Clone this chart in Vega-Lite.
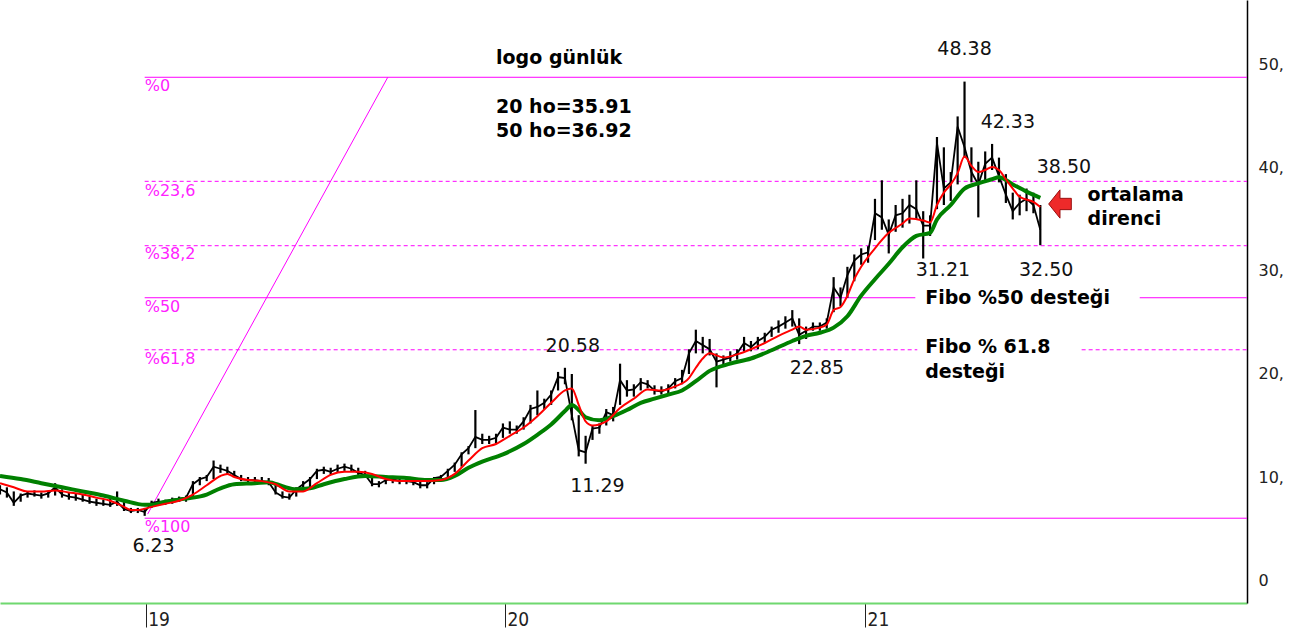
{
  "$schema": "https://vega.github.io/schema/vega-lite/v6.json",
  "width": 1247,
  "height": 603,
  "padding": {"left": 0, "top": 0, "right": 45, "bottom": 41},
  "autosize": {"type": "none"},
  "background": "white",
  "config": {"view": {"stroke": null}, "font": "DejaVu Sans"},
  "datasets": {
    "price": [
      {"d":"2018-08-06","h":9.2,"v":8.3},{"d":"2018-08-13","h":9.0,"v":8.0},{"d":"2018-08-20","h":8.6,"v":7.2},{"d":"2018-08-27","h":8.4,"v":7.6},
      {"d":"2018-09-03","h":8.6,"v":8.0},{"d":"2018-09-10","h":8.7,"v":8.1},{"d":"2018-09-17","h":8.5,"v":7.9},{"d":"2018-09-24","h":8.6,"v":8.0},
      {"d":"2018-10-01","h":9.4,"v":8.2},{"d":"2018-10-08","h":8.8,"v":8.0},{"d":"2018-10-15","h":8.5,"v":7.8},{"d":"2018-10-22","h":8.4,"v":7.7},
      {"d":"2018-10-29","h":8.3,"v":7.6},{"d":"2018-11-05","h":8.1,"v":7.4},{"d":"2018-11-12","h":7.9,"v":7.2},{"d":"2018-11-19","h":7.8,"v":7.2},
      {"d":"2018-11-26","h":8.0,"v":7.1},{"d":"2018-12-03","h":8.6,"v":7.2},{"d":"2018-12-10","h":7.6,"v":6.7},{"d":"2018-12-17","h":7.0,"v":6.5},
      {"d":"2018-12-24","h":7.0,"v":6.5},{"d":"2018-12-31","h":7.0,"v":6.23},{"d":"2019-01-07","h":7.7,"v":7.0},{"d":"2019-01-14","h":7.9,"v":7.3},
      {"d":"2019-01-21","h":7.8,"v":7.3},{"d":"2019-01-28","h":8.0,"v":7.4},{"d":"2019-02-04","h":8.1,"v":7.6},{"d":"2019-02-11","h":8.2,"v":7.6},
      {"d":"2019-02-18","h":9.6,"v":8.0},{"d":"2019-02-25","h":10.0,"v":9.2},{"d":"2019-03-04","h":10.2,"v":9.6},{"d":"2019-03-11","h":11.6,"v":9.8},
      {"d":"2019-03-18","h":11.2,"v":10.4},{"d":"2019-03-25","h":11.0,"v":10.2},{"d":"2019-04-01","h":10.6,"v":10.0},{"d":"2019-04-08","h":10.2,"v":9.6},
      {"d":"2019-04-15","h":10.0,"v":9.5},{"d":"2019-04-22","h":10.0,"v":9.4},{"d":"2019-04-29","h":10.0,"v":9.4},{"d":"2019-05-06","h":9.9,"v":9.2},
      {"d":"2019-05-13","h":9.4,"v":8.3},{"d":"2019-05-20","h":8.6,"v":7.9},{"d":"2019-05-27","h":8.4,"v":7.8},{"d":"2019-06-03","h":9.0,"v":8.1},
      {"d":"2019-06-10","h":9.6,"v":8.8},{"d":"2019-06-17","h":10.0,"v":9.0},{"d":"2019-06-24","h":10.8,"v":9.8},{"d":"2019-07-01","h":11.0,"v":10.3},
      {"d":"2019-07-08","h":10.9,"v":10.2},{"d":"2019-07-15","h":11.2,"v":10.4},{"d":"2019-07-22","h":11.3,"v":10.6},{"d":"2019-07-29","h":11.2,"v":10.5},
      {"d":"2019-08-05","h":10.9,"v":10.2},{"d":"2019-08-12","h":10.6,"v":10.0},{"d":"2019-08-19","h":10.0,"v":9.1},{"d":"2019-08-26","h":9.6,"v":9.0},
      {"d":"2019-09-02","h":9.9,"v":9.3},{"d":"2019-09-09","h":10.0,"v":9.4},{"d":"2019-09-16","h":9.9,"v":9.3},{"d":"2019-09-23","h":9.8,"v":9.3},
      {"d":"2019-09-30","h":9.8,"v":9.2},{"d":"2019-10-07","h":9.6,"v":8.9},{"d":"2019-10-14","h":9.5,"v":8.9},{"d":"2019-10-21","h":10.0,"v":9.3},
      {"d":"2019-10-28","h":10.2,"v":9.6},{"d":"2019-11-04","h":10.8,"v":9.9},{"d":"2019-11-11","h":11.4,"v":10.5},{"d":"2019-11-18","h":12.4,"v":11.0},
      {"d":"2019-11-25","h":13.0,"v":12.2},{"d":"2019-12-02","h":16.5,"v":12.8},{"d":"2019-12-09","h":14.2,"v":13.2},{"d":"2019-12-16","h":14.0,"v":13.2},
      {"d":"2019-12-23","h":14.2,"v":13.3},{"d":"2019-12-30","h":15.2,"v":13.8},{"d":"2020-01-06","h":15.4,"v":14.2},{"d":"2020-01-13","h":15.0,"v":14.2},
      {"d":"2020-01-20","h":15.8,"v":14.6},{"d":"2020-01-27","h":17.0,"v":15.2},{"d":"2020-02-03","h":18.4,"v":16.0},{"d":"2020-02-10","h":17.6,"v":16.6},
      {"d":"2020-02-17","h":18.4,"v":17.0},{"d":"2020-02-24","h":20.2,"v":18.4},{"d":"2020-03-02","h":20.6,"v":19.0},{"d":"2020-03-09","h":20.0,"v":15.5},
      {"d":"2020-03-16","h":16.0,"v":12.0},{"d":"2020-03-23","h":14.0,"v":11.29},{"d":"2020-03-30","h":15.0,"v":13.6},{"d":"2020-04-06","h":15.2,"v":14.2},
      {"d":"2020-04-13","h":16.6,"v":15.0},{"d":"2020-04-20","h":16.8,"v":15.4},{"d":"2020-04-27","h":21.0,"v":17.0},{"d":"2020-05-04","h":19.4,"v":17.8},
      {"d":"2020-05-11","h":19.0,"v":17.8},{"d":"2020-05-18","h":19.6,"v":18.4},{"d":"2020-05-25","h":19.4,"v":18.6},{"d":"2020-06-01","h":18.9,"v":18.0},
      {"d":"2020-06-08","h":18.8,"v":18.0},{"d":"2020-06-15","h":19.0,"v":18.0},{"d":"2020-06-22","h":19.6,"v":18.6},{"d":"2020-06-29","h":20.4,"v":19.0},
      {"d":"2020-07-06","h":22.4,"v":20.0},{"d":"2020-07-13","h":24.3,"v":22.0},{"d":"2020-07-20","h":23.6,"v":22.0},{"d":"2020-07-27","h":23.4,"v":21.8},
      {"d":"2020-08-03","h":22.0,"v":18.7},{"d":"2020-08-10","h":21.8,"v":20.8},{"d":"2020-08-17","h":22.2,"v":21.2},{"d":"2020-08-24","h":22.4,"v":21.4},
      {"d":"2020-08-31","h":23.6,"v":22.2},{"d":"2020-09-07","h":23.2,"v":22.2},{"d":"2020-09-14","h":23.6,"v":22.4},{"d":"2020-09-21","h":24.0,"v":23.0},
      {"d":"2020-09-28","h":24.6,"v":23.6},{"d":"2020-10-05","h":25.2,"v":24.0},{"d":"2020-10-12","h":25.6,"v":24.4},{"d":"2020-10-19","h":26.2,"v":24.6},
      {"d":"2020-10-26","h":25.4,"v":22.9},{"d":"2020-11-02","h":24.6,"v":23.4},{"d":"2020-11-09","h":25.0,"v":24.2},{"d":"2020-11-16","h":25.0,"v":24.2},
      {"d":"2020-11-23","h":25.4,"v":24.4},{"d":"2020-11-30","h":29.4,"v":26.0},{"d":"2020-12-07","h":28.4,"v":26.6},{"d":"2020-12-14","h":30.4,"v":27.4},
      {"d":"2020-12-21","h":31.6,"v":29.0},{"d":"2020-12-28","h":32.2,"v":30.6},{"d":"2021-01-04","h":32.4,"v":30.8},{"d":"2021-01-11","h":37.0,"v":33.0},
      {"d":"2021-01-18","h":38.8,"v":34.0},{"d":"2021-01-25","h":35.0,"v":31.7},{"d":"2021-02-01","h":36.4,"v":33.8},{"d":"2021-02-08","h":37.0,"v":34.2},
      {"d":"2021-02-15","h":37.4,"v":34.6},{"d":"2021-02-22","h":38.8,"v":35.0},{"d":"2021-03-01","h":35.8,"v":31.21},{"d":"2021-03-08","h":35.4,"v":33.4},
      {"d":"2021-03-15","h":43.0,"v":36.0},{"d":"2021-03-22","h":42.0,"v":36.4},{"d":"2021-03-29","h":39.6,"v":36.8},{"d":"2021-04-05","h":45.0,"v":38.4},
      {"d":"2021-04-12","h":48.38,"v":41.0},{"d":"2021-04-19","h":42.0,"v":38.6},{"d":"2021-04-26","h":40.6,"v":35.2},{"d":"2021-05-03","h":41.6,"v":38.8},
      {"d":"2021-05-10","h":42.33,"v":39.8},{"d":"2021-05-17","h":41.0,"v":38.6},{"d":"2021-05-24","h":39.4,"v":36.6},{"d":"2021-05-31","h":37.6,"v":35.0},
      {"d":"2021-06-07","h":37.4,"v":35.4},{"d":"2021-06-14","h":38.0,"v":35.8},{"d":"2021-06-21","h":37.6,"v":35.6},{"d":"2021-06-28","h":36.4,"v":32.5}
    ],
    "close": [
      {"d":"2018-08-06","v":8.8},{"d":"2018-08-13","v":8.5},{"d":"2018-08-20","v":7.5},{"d":"2018-08-27","v":8.2},
      {"d":"2018-09-03","v":8.4},{"d":"2018-09-10","v":8.3},{"d":"2018-09-17","v":8.2},{"d":"2018-09-24","v":8.4},
      {"d":"2018-10-01","v":9.0},{"d":"2018-10-08","v":8.3},{"d":"2018-10-15","v":8.1},{"d":"2018-10-22","v":8.0},
      {"d":"2018-10-29","v":7.8},{"d":"2018-11-05","v":7.6},{"d":"2018-11-12","v":7.5},{"d":"2018-11-19","v":7.4},
      {"d":"2018-11-26","v":7.3},{"d":"2018-12-03","v":7.6},{"d":"2018-12-10","v":6.9},{"d":"2018-12-17","v":6.7},
      {"d":"2018-12-24","v":6.8},{"d":"2018-12-31","v":6.6},{"d":"2019-01-07","v":7.5},{"d":"2019-01-14","v":7.6},
      {"d":"2019-01-21","v":7.6},{"d":"2019-01-28","v":7.8},{"d":"2019-02-04","v":7.9},{"d":"2019-02-11","v":8.0},
      {"d":"2019-02-18","v":9.3},{"d":"2019-02-25","v":9.8},{"d":"2019-03-04","v":10.0},{"d":"2019-03-11","v":11.0},
      {"d":"2019-03-18","v":10.8},{"d":"2019-03-25","v":10.6},{"d":"2019-04-01","v":10.2},{"d":"2019-04-08","v":9.8},
      {"d":"2019-04-15","v":9.7},{"d":"2019-04-22","v":9.7},{"d":"2019-04-29","v":9.6},{"d":"2019-05-06","v":9.5},
      {"d":"2019-05-13","v":8.5},{"d":"2019-05-20","v":8.1},{"d":"2019-05-27","v":8.0},{"d":"2019-06-03","v":8.8},
      {"d":"2019-06-10","v":9.3},{"d":"2019-06-17","v":9.8},{"d":"2019-06-24","v":10.6},{"d":"2019-07-01","v":10.7},
      {"d":"2019-07-08","v":10.5},{"d":"2019-07-15","v":10.8},{"d":"2019-07-22","v":11.0},{"d":"2019-07-29","v":10.8},
      {"d":"2019-08-05","v":10.4},{"d":"2019-08-12","v":10.2},{"d":"2019-08-19","v":9.3},{"d":"2019-08-26","v":9.3},
      {"d":"2019-09-02","v":9.7},{"d":"2019-09-09","v":9.8},{"d":"2019-09-16","v":9.6},{"d":"2019-09-23","v":9.6},
      {"d":"2019-09-30","v":9.5},{"d":"2019-10-07","v":9.2},{"d":"2019-10-14","v":9.2},{"d":"2019-10-21","v":9.9},
      {"d":"2019-10-28","v":10.0},{"d":"2019-11-04","v":10.6},{"d":"2019-11-11","v":11.2},{"d":"2019-11-18","v":12.2},
      {"d":"2019-11-25","v":12.8},{"d":"2019-12-02","v":13.9},{"d":"2019-12-09","v":13.6},{"d":"2019-12-16","v":13.6},
      {"d":"2019-12-23","v":13.8},{"d":"2019-12-30","v":14.8},{"d":"2020-01-06","v":14.6},{"d":"2020-01-13","v":14.6},
      {"d":"2020-01-20","v":15.4},{"d":"2020-01-27","v":16.6},{"d":"2020-02-03","v":16.8},{"d":"2020-02-10","v":17.2},
      {"d":"2020-02-17","v":18.0},{"d":"2020-02-24","v":19.7},{"d":"2020-03-02","v":19.6},{"d":"2020-03-09","v":16.0},
      {"d":"2020-03-16","v":12.6},{"d":"2020-03-23","v":12.4},{"d":"2020-03-30","v":14.7},{"d":"2020-04-06","v":14.8},
      {"d":"2020-04-13","v":16.3},{"d":"2020-04-20","v":16.0},{"d":"2020-04-27","v":19.4},{"d":"2020-05-04","v":18.4},
      {"d":"2020-05-11","v":18.5},{"d":"2020-05-18","v":19.2},{"d":"2020-05-25","v":19.0},{"d":"2020-06-01","v":18.4},
      {"d":"2020-06-08","v":18.3},{"d":"2020-06-15","v":18.6},{"d":"2020-06-22","v":19.3},{"d":"2020-06-29","v":19.6},
      {"d":"2020-07-06","v":22.0},{"d":"2020-07-13","v":23.2},{"d":"2020-07-20","v":22.8},{"d":"2020-07-27","v":22.4},
      {"d":"2020-08-03","v":21.2},{"d":"2020-08-10","v":21.4},{"d":"2020-08-17","v":21.6},{"d":"2020-08-24","v":22.0},
      {"d":"2020-08-31","v":23.0},{"d":"2020-09-07","v":22.6},{"d":"2020-09-14","v":23.2},{"d":"2020-09-21","v":23.6},
      {"d":"2020-09-28","v":24.3},{"d":"2020-10-05","v":24.6},{"d":"2020-10-12","v":25.0},{"d":"2020-10-19","v":25.4},
      {"d":"2020-10-26","v":23.8},{"d":"2020-11-02","v":24.2},{"d":"2020-11-09","v":24.6},{"d":"2020-11-16","v":24.6},
      {"d":"2020-11-23","v":25.0},{"d":"2020-11-30","v":28.4},{"d":"2020-12-07","v":27.4},{"d":"2020-12-14","v":29.6},
      {"d":"2020-12-21","v":31.0},{"d":"2020-12-28","v":31.6},{"d":"2021-01-04","v":31.8},{"d":"2021-01-11","v":35.6},
      {"d":"2021-01-18","v":35.2},{"d":"2021-01-25","v":33.5},{"d":"2021-02-01","v":35.4},{"d":"2021-02-08","v":35.6},
      {"d":"2021-02-15","v":36.4},{"d":"2021-02-22","v":36.0},{"d":"2021-03-01","v":34.4},{"d":"2021-03-08","v":34.4},
      {"d":"2021-03-15","v":42.4},{"d":"2021-03-22","v":38.0},{"d":"2021-03-29","v":38.6},{"d":"2021-04-05","v":44.0},
      {"d":"2021-04-12","v":42.0},{"d":"2021-04-19","v":39.6},{"d":"2021-04-26","v":38.4},{"d":"2021-05-03","v":40.4},
      {"d":"2021-05-10","v":41.0},{"d":"2021-05-17","v":39.2},{"d":"2021-05-24","v":37.4},{"d":"2021-05-31","v":35.8},
      {"d":"2021-06-07","v":36.6},{"d":"2021-06-14","v":37.0},{"d":"2021-06-21","v":36.4},{"d":"2021-06-28","v":34.0}
    ],
    "ma20": [
      {"d":"2018-08-06","v":9.4},{"d":"2018-08-20","v":9.0},{"d":"2018-09-03","v":8.6},{"d":"2018-09-17","v":8.6},
      {"d":"2018-10-01","v":8.7},{"d":"2018-10-15","v":8.5},{"d":"2018-10-29","v":8.3},{"d":"2018-11-12","v":8.0},
      {"d":"2018-11-26","v":7.7},{"d":"2018-12-10","v":7.1},{"d":"2018-12-17","v":6.8},{"d":"2018-12-24","v":6.8},
      {"d":"2019-01-07","v":7.1},{"d":"2019-01-21","v":7.4},{"d":"2019-02-04","v":7.7},{"d":"2019-02-18","v":8.3},
      {"d":"2019-03-04","v":9.2},{"d":"2019-03-18","v":10.1},{"d":"2019-03-25","v":10.3},{"d":"2019-04-01","v":10.0},
      {"d":"2019-04-15","v":9.7},{"d":"2019-04-29","v":9.6},{"d":"2019-05-13","v":9.3},{"d":"2019-05-27","v":8.6},
      {"d":"2019-06-10","v":8.6},{"d":"2019-06-24","v":9.4},{"d":"2019-07-08","v":10.2},{"d":"2019-07-22","v":10.5},
      {"d":"2019-08-05","v":10.5},{"d":"2019-08-19","v":10.3},{"d":"2019-09-02","v":9.8},{"d":"2019-09-16","v":9.6},
      {"d":"2019-09-30","v":9.6},{"d":"2019-10-14","v":9.6},{"d":"2019-10-28","v":9.7},{"d":"2019-11-11","v":10.3},
      {"d":"2019-11-25","v":11.6},{"d":"2019-12-09","v":12.8},{"d":"2019-12-23","v":13.2},{"d":"2020-01-06","v":14.0},
      {"d":"2020-01-20","v":14.8},{"d":"2020-02-03","v":15.9},{"d":"2020-02-17","v":17.2},{"d":"2020-03-02","v":18.4},
      {"d":"2020-03-09","v":18.6},{"d":"2020-03-16","v":17.0},{"d":"2020-03-23","v":15.4},{"d":"2020-03-30","v":15.0},
      {"d":"2020-04-13","v":15.4},{"d":"2020-04-27","v":16.7},{"d":"2020-05-11","v":17.6},{"d":"2020-05-25","v":18.5},
      {"d":"2020-06-08","v":18.4},{"d":"2020-06-22","v":18.8},{"d":"2020-07-06","v":19.6},{"d":"2020-07-13","v":20.6},
      {"d":"2020-07-20","v":21.5},{"d":"2020-07-27","v":22.0},{"d":"2020-08-10","v":21.6},{"d":"2020-08-24","v":21.9},
      {"d":"2020-09-07","v":22.4},{"d":"2020-09-21","v":23.0},{"d":"2020-10-05","v":23.7},{"d":"2020-10-19","v":24.3},
      {"d":"2020-10-26","v":24.6},{"d":"2020-11-02","v":24.3},{"d":"2020-11-16","v":24.5},{"d":"2020-11-23","v":24.8},
      {"d":"2020-11-30","v":26.2},{"d":"2020-12-07","v":26.5},{"d":"2020-12-14","v":27.6},{"d":"2020-12-21","v":29.2},
      {"d":"2020-12-28","v":30.4},{"d":"2021-01-11","v":32.2},{"d":"2021-01-25","v":33.7},{"d":"2021-02-08","v":34.6},
      {"d":"2021-02-15","v":35.1},{"d":"2021-03-01","v":34.9},{"d":"2021-03-08","v":34.7},{"d":"2021-03-15","v":36.4},
      {"d":"2021-03-22","v":37.6},{"d":"2021-03-29","v":38.4},{"d":"2021-04-05","v":39.5},{"d":"2021-04-12","v":41.1},
      {"d":"2021-04-19","v":40.2},{"d":"2021-04-26","v":39.6},{"d":"2021-05-03","v":39.8},{"d":"2021-05-10","v":40.1},
      {"d":"2021-05-17","v":39.8},{"d":"2021-05-24","v":38.9},{"d":"2021-05-31","v":38.0},{"d":"2021-06-07","v":37.2},
      {"d":"2021-06-21","v":36.7},{"d":"2021-06-28","v":36.2}
    ],
    "ma50": [
      {"d":"2018-08-06","v":10.1},{"d":"2018-08-27","v":9.8},{"d":"2018-09-17","v":9.4},{"d":"2018-10-08","v":9.0},
      {"d":"2018-10-29","v":8.6},{"d":"2018-11-19","v":8.2},{"d":"2018-12-10","v":7.7},{"d":"2018-12-31","v":7.3},
      {"d":"2019-01-07","v":7.3},{"d":"2019-01-21","v":7.6},{"d":"2019-02-11","v":7.9},{"d":"2019-03-04","v":8.3},
      {"d":"2019-03-18","v":8.9},{"d":"2019-04-01","v":9.3},{"d":"2019-04-22","v":9.4},{"d":"2019-05-06","v":9.5},
      {"d":"2019-05-20","v":9.1},{"d":"2019-06-03","v":8.8},{"d":"2019-06-17","v":8.9},{"d":"2019-07-01","v":9.3},
      {"d":"2019-07-22","v":9.8},{"d":"2019-08-12","v":10.1},{"d":"2019-09-02","v":10.0},{"d":"2019-09-23","v":9.9},
      {"d":"2019-10-14","v":9.7},{"d":"2019-10-28","v":9.7},{"d":"2019-11-11","v":10.1},{"d":"2019-11-25","v":10.9},
      {"d":"2019-12-09","v":11.5},{"d":"2019-12-30","v":12.2},{"d":"2020-01-20","v":13.2},{"d":"2020-02-03","v":14.1},
      {"d":"2020-02-17","v":15.1},{"d":"2020-03-02","v":16.4},{"d":"2020-03-09","v":17.0},{"d":"2020-03-16","v":16.5},
      {"d":"2020-03-23","v":15.8},{"d":"2020-04-06","v":15.5},{"d":"2020-04-20","v":15.9},{"d":"2020-05-04","v":16.5},
      {"d":"2020-05-18","v":17.2},{"d":"2020-06-01","v":17.6},{"d":"2020-06-15","v":18.0},{"d":"2020-06-29","v":18.4},
      {"d":"2020-07-13","v":19.3},{"d":"2020-07-27","v":20.3},{"d":"2020-08-17","v":21.0},{"d":"2020-09-07","v":21.5},
      {"d":"2020-09-28","v":22.3},{"d":"2020-10-19","v":23.2},{"d":"2020-11-02","v":23.7},{"d":"2020-11-16","v":24.0},
      {"d":"2020-11-30","v":24.5},{"d":"2020-12-14","v":25.6},{"d":"2020-12-28","v":27.6},{"d":"2021-01-11","v":29.2},
      {"d":"2021-01-25","v":30.7},{"d":"2021-02-08","v":32.3},{"d":"2021-02-22","v":33.4},{"d":"2021-03-08","v":33.7},
      {"d":"2021-03-15","v":35.0},{"d":"2021-03-29","v":36.4},{"d":"2021-04-12","v":38.0},{"d":"2021-04-26","v":38.5},
      {"d":"2021-05-10","v":38.9},{"d":"2021-05-17","v":39.1},{"d":"2021-05-31","v":38.4},{"d":"2021-06-14","v":37.7},
      {"d":"2021-06-28","v":37.1}
    ],
    "fib": [
      {"lvl":"%0","v":48.8,"kind":"solid","d":"2018-12-31","d2":"2022-01-24"},
      {"lvl":"%23,6","v":38.7,"kind":"dash","d":"2018-12-31","d2":"2022-01-24"},
      {"lvl":"%38,2","v":32.45,"kind":"dash","d":"2018-12-31","d2":"2022-01-24"},
      {"lvl":"%50","v":27.4,"kind":"solid","d":"2018-12-31","d2":"2021-02-21"},
      {"lvl":"%50","v":27.4,"kind":"solid","d":"2021-10-07","d2":"2022-01-24"},
      {"lvl":"%61,8","v":22.35,"kind":"dash","d":"2018-12-31","d2":"2021-02-23"},
      {"lvl":"%61,8","v":22.35,"kind":"dash","d":"2021-08-09","d2":"2022-01-24"},
      {"lvl":"%100","v":6.0,"kind":"solid","d":"2018-12-31","d2":"2022-01-24"}
    ],
    "trend": [
      {"d":"2019-01-03","v":6.4},
      {"d":"2019-09-04","v":48.8}
    ],
    "fiblab": [
      {"d":"2018-12-31","v":48.0,"t":"%0"},
      {"d":"2018-12-31","v":37.8,"t":"%23,6"},
      {"d":"2018-12-31","v":31.6,"t":"%38,2"},
      {"d":"2018-12-31","v":26.5,"t":"%50"},
      {"d":"2018-12-31","v":21.5,"t":"%61,8"},
      {"d":"2018-12-31","v":5.1,"t":"%100"}
    ],
    "nums": [
      {"d":"2021-04-12","v":51.5,"t":"48.38"},
      {"d":"2021-05-26","v":44.5,"t":"42.33"},
      {"d":"2021-07-22","v":40.1,"t":"38.50"},
      {"d":"2021-03-21","v":30.1,"t":"31.21"},
      {"d":"2021-07-04","v":30.1,"t":"32.50"},
      {"d":"2020-03-10","v":22.7,"t":"20.58"},
      {"d":"2020-04-04","v":9.1,"t":"11.29"},
      {"d":"2020-11-13","v":20.6,"t":"22.85"},
      {"d":"2019-01-09","v":3.3,"t":"6.23"}
    ],
    "notes": [
      {"d":"2019-12-23","v":50.7,"t":"logo günlük"},
      {"d":"2019-12-23","v":45.9,"t":"20 ho=35.91"},
      {"d":"2019-12-23","v":43.6,"t":"50 ho=36.92"},
      {"d":"2021-08-15","v":37.4,"t":"ortalama"},
      {"d":"2021-08-15","v":35.0,"t":"direnci"},
      {"d":"2021-03-03","v":27.4,"t":"Fibo %50 desteği"},
      {"d":"2021-03-03","v":22.6,"t":"Fibo % 61.8"},
      {"d":"2021-03-03","v":20.2,"t":"desteği"}
    ],
    "arrow": [
      {"d":"2021-07-18","v":36.5}
    ]
  },
  "encoding": {
    "x": {
      "field": "d",
      "type": "temporal",
      "title": null,
      "scale": {"type": "utc", "domain": [{"year": 2018, "month": 8, "date": 6, "utc": true}, {"year": 2022, "month": 1, "date": 24, "utc": true}]},
      "axis": {
        "orient": "bottom",
        "values": [{"year": 2019, "month": 1, "date": 1, "utc": true}, {"year": 2020, "month": 1, "date": 1, "utc": true}, {"year": 2021, "month": 1, "date": 1, "utc": true}],
        "labelExpr": "utcFormat(datum.value, '%y')",
        "grid": false,
        "domainColor": "#6fd86f",
        "domainWidth": 2,
        "tickColor": "#222222",
        "tickWidth": 1,
        "tickSize": 24,
        "labelAlign": "left",
        "labelBaseline": "top",
        "labelPadding": -17,
        "labelOffset": 2,
        "labelFont": "DejaVu Sans Condensed",
        "labelFontSize": 19,
        "labelColor": "#222222",
        "labelFlush": false
      }
    },
    "y": {
      "field": "v",
      "type": "quantitative",
      "title": null,
      "scale": {"domain": [-2.23, 56.3], "nice": false, "zero": false},
      "axis": {
        "orient": "right",
        "values": [0, 10, 20, 30, 40, 50],
        "labelExpr": "datum.value == 0 ? '0' : datum.value + ','",
        "labelFont": "DejaVu Sans",
        "labelFontSize": 16,
        "labelColor": "#222222",
        "labelPadding": 11,
        "labelBaseline": "middle",
        "ticks": false,
        "domainColor": "#000000",
        "domainWidth": 1.5,
        "grid": false
      }
    }
  },
  "layer": [
    {
      "data": {"name": "fib"},
      "transform": [{"filter": "datum.kind == 'solid'"}],
      "mark": {"type": "rule", "color": "#ff00ff", "strokeWidth": 1},
      "encoding": {"x2": {"field": "d2"}}
    },
    {
      "data": {"name": "fib"},
      "transform": [{"filter": "datum.kind == 'dash'"}],
      "mark": {"type": "rule", "color": "#ff00ff", "strokeWidth": 1, "strokeDash": [4, 3]},
      "encoding": {"x2": {"field": "d2"}}
    },
    {
      "data": {"name": "trend"},
      "mark": {"type": "line", "color": "#ff00ff", "strokeWidth": 1},
      "encoding": {}
    },
    {
      "data": {"name": "fiblab"},
      "mark": {"type": "text", "color": "#ff22ff", "fontSize": 16, "font": "DejaVu Sans", "align": "left", "baseline": "middle"},
      "encoding": {"text": {"field": "t"}}
    },
    {
      "data": {"name": "price"},
      "mark": {"type": "rule", "color": "#000000", "strokeWidth": 2.2},
      "encoding": {"y2": {"field": "h"}}
    },
    {
      "data": {"name": "close"},
      "mark": {"type": "line", "color": "#000000", "strokeWidth": 1.8},
      "encoding": {}
    },
    {
      "data": {"name": "ma50"},
      "mark": {"type": "line", "color": "#008000", "strokeWidth": 4, "interpolate": "monotone"},
      "encoding": {}
    },
    {
      "data": {"name": "ma20"},
      "mark": {"type": "line", "color": "#ff0000", "strokeWidth": 2, "interpolate": "monotone"},
      "encoding": {}
    },
    {
      "data": {"name": "nums"},
      "mark": {"type": "text", "color": "#111111", "fontSize": 19, "font": "DejaVu Sans", "align": "center", "baseline": "middle"},
      "encoding": {"text": {"field": "t"}}
    },
    {
      "data": {"name": "notes"},
      "mark": {"type": "text", "color": "#000000", "fontSize": 19, "fontWeight": "bold", "font": "DejaVu Sans", "align": "left", "baseline": "middle"},
      "encoding": {"text": {"field": "t"}}
    },
    {
      "data": {"name": "arrow"},
      "mark": {"type": "point", "shape": "M -0.8 0 L 0 -1 L 0 -0.4 L 0.8 -0.4 L 0.8 0.4 L 0 0.4 L 0 1 Z", "size": 800, "filled": true, "color": "#ee2a2a", "stroke": "#9a1010", "strokeWidth": 1, "opacity": 1},
      "encoding": {}
    }
  ]
}
